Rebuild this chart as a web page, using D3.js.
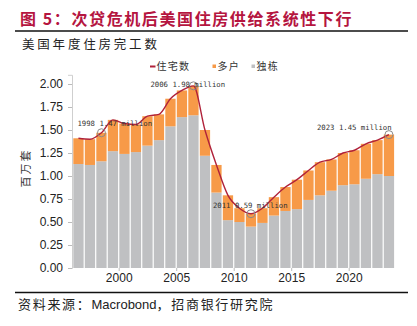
<!DOCTYPE html>
<html>
<head>
<meta charset="utf-8">
<script src="https://cdn.jsdelivr.net/npm/d3@7"></script>
<style>
  body { margin: 0; background: #fff; }
  svg { display: block; }
  .cjk { font-family: "Noto Sans CJK SC", sans-serif; }
  .tick text { font-family: "Liberation Sans", Arial, sans-serif; font-size: 12px; fill: #222; }
</style>
</head>
<body>
<svg width="417" height="326"></svg>
<script>
  // 数据（百万套）
  var years = [1996, 1997, 1998, 1999, 2000, 2001, 2002, 2003, 2004, 2005, 2006, 2007, 2008, 2009,
               2010, 2011, 2012, 2013, 2014, 2015, 2016, 2017, 2018, 2019, 2020, 2021, 2022, 2023]
  var total = [1.41, 1.40, 1.47, 1.61, 1.57, 1.56, 1.65, 1.67, 1.84, 1.93, 1.98, 1.50, 1.12, 0.79,
               0.65, 0.59, 0.65, 0.77, 0.88, 0.96, 1.06, 1.15, 1.18, 1.25, 1.28, 1.35, 1.39, 1.45]
  var single = [1.13, 1.12, 1.16, 1.27, 1.24, 1.26, 1.33, 1.39, 1.54, 1.64, 1.66, 1.22, 0.82, 0.52,
                0.50, 0.45, 0.49, 0.57, 0.62, 0.64, 0.74, 0.79, 0.84, 0.90, 0.91, 0.97, 1.02, 1.00]
  var multi = [0.28, 0.28, 0.31, 0.34, 0.33, 0.30, 0.32, 0.28, 0.30, 0.29, 0.32, 0.28, 0.30, 0.27,
               0.15, 0.14, 0.16, 0.20, 0.26, 0.32, 0.32, 0.36, 0.34, 0.35, 0.37, 0.38, 0.37, 0.45]
  var yTicks = [0, 0.25, 0.5, 0.75, 1, 1.25, 1.5, 1.75, 2]
  var xTicks = [2000, 2005, 2010, 2015, 2020]
  var notes = [
    { year: 1998, text: '1998 1.47 million' },
    { year: 2006, text: '2006 1.98 million' },
    { year: 2011, text: '2011 0.59 million' },
    { year: 2023, text: '2023 1.45 million' }
  ]
  var noteOffsets = [[-24, -9], [-43, -1.5], [-38, -8], [-72, -7]]

  var svg = d3.select('svg')
  var orange = '#f79a48'
  var grey = '#bfc0c2'
  var red = '#b0223a'

  // 标题
  svg.append('text').attr('class', 'cjk')
    .attr('x', 20).attr('y', 25)
    .attr('font-size', 16).attr('font-weight', 'bold')
    .attr('letter-spacing', 1.6)
    .attr('fill', '#b5153f')
    .text('图 5：次贷危机后美国住房供给系统性下行')

  svg.append('line').attr('x1', 15).attr('x2', 408).attr('y1', 31).attr('y2', 31)
    .attr('stroke', '#111').attr('stroke-width', 1.5)

  svg.append('text').attr('class', 'cjk')
    .attr('x', 22).attr('y', 48.5)
    .attr('font-size', 12.5).attr('letter-spacing', 2.8).attr('fill', '#222')
    .text('美国年度住房完工数')

  var x = d3.scaleLinear().domain([1996, 2024]).range([72.7, 394.7])
  var y = d3.scaleLinear().domain([0, 2.1]).range([268, 74.8])

  // 柱
  var g = svg.append('g')
  g.selectAll('rect.single').data(years).enter().append('rect')
    .attr('class', 'single')
    .attr('x', function (d) { return x(d) + 0.6 })
    .attr('width', function (d) { return x(d + 1) - x(d) - 1.2 })
    .attr('y', function (d, i) { return y(single[i]) })
    .attr('height', function (d, i) { return y(0) - y(single[i]) })
    .attr('fill', grey)
  g.selectAll('rect.multi').data(years).enter().append('rect')
    .attr('class', 'multi')
    .attr('x', function (d) { return x(d) + 0.6 })
    .attr('width', function (d) { return x(d + 1) - x(d) - 1.2 })
    .attr('y', function (d, i) { return y(single[i] + multi[i]) })
    .attr('height', function (d, i) { return y(single[i]) - y(single[i] + multi[i]) })
    .attr('fill', orange)

  // 坐标轴
  var yAxis = svg.append('g').attr('transform', 'translate(72,0)')
    .call(d3.axisLeft(y).tickValues(yTicks).tickFormat(d3.format('.2f')).tickSize(4).tickPadding(5))
  yAxis.select('.domain').attr('stroke', '#cfcfcf')
  yAxis.selectAll('.tick line').attr('stroke', '#bbb')

  var xAxis = svg.append('g').attr('transform', 'translate(0,268)')
    .call(d3.axisBottom(x).tickValues(xTicks).tickFormat(d3.format('d')).tickSize(3).tickPadding(2))
  xAxis.select('.domain').remove()
  xAxis.selectAll('.tick line').attr('stroke', '#bbb')

  svg.append('text').attr('class', 'cjk')
    .attr('transform', 'translate(30,168) rotate(-90)')
    .attr('text-anchor', 'middle')
    .attr('font-size', 11).attr('letter-spacing', 2).attr('fill', '#333')
    .text('百万套')

  // 折线
  var line = d3.line()
    .x(function (d) { return x(d + 0.5) })
    .y(function (d, i) { return y(total[i]) })
    .curve(d3.curveMonotoneX)
  svg.append('path').datum(years)
    .attr('d', line)
    .attr('fill', 'none').attr('stroke', red).attr('stroke-width', 1.4)

  // 标注
  notes.forEach(function (n, k) {
    var i = years.indexOf(n.year)
    var cx = x(n.year + 0.5)
    var cy = y(total[i])
    svg.append('circle').attr('cx', cx).attr('cy', cy).attr('r', 4)
      .attr('fill', 'none').attr('stroke', '#8a8a8a').attr('stroke-width', 1)
    svg.append('text')
      .attr('x', cx + noteOffsets[k][0]).attr('y', cy + noteOffsets[k][1] + 2.7)
      .attr('font-family', '"DejaVu Sans Mono", monospace')
      .attr('font-size', 7.3).attr('fill', '#333')
      .text(n.text)
  })

  // 图例
  var lg = svg.append('g').attr('class', 'cjk').attr('font-size', 10).attr('fill', '#333')
  lg.append('line').attr('x1', 150).attr('x2', 155.5).attr('y1', 66.5).attr('y2', 66.5)
    .attr('stroke', red).attr('stroke-width', 2)
  lg.append('text').attr('x', 156.5).attr('y', 70).attr('letter-spacing', 1.2).text('住宅数')
  lg.append('rect').attr('x', 212.5).attr('y', 64.5).attr('width', 3.5).attr('height', 3.5).attr('fill', orange)
  lg.append('text').attr('x', 217.5).attr('y', 70).attr('letter-spacing', 1.2).text('多户')
  lg.append('rect').attr('x', 251.5).attr('y', 64.5).attr('width', 3.5).attr('height', 3.5).attr('fill', grey)
  lg.append('text').attr('x', 256.5).attr('y', 70).attr('letter-spacing', 1.2).text('独栋')

  // 底部
  svg.append('line').attr('x1', 15).attr('x2', 408).attr('y1', 292.5).attr('y2', 292.5)
    .attr('stroke', '#111').attr('stroke-width', 1.5)
  var src = svg.append('text').attr('x', 18).attr('y', 308.5).attr('font-size', 13).attr('fill', '#222')
  src.append('tspan').attr('class', 'cjk').attr('letter-spacing', 1.7).text('资料来源：')
  src.append('tspan').attr('font-family', '"Liberation Sans", Arial, sans-serif').text('Macrobond')
  src.append('tspan').attr('class', 'cjk').attr('letter-spacing', 1.7).text('，招商银行研究院')
</script>
</body>
</html>
